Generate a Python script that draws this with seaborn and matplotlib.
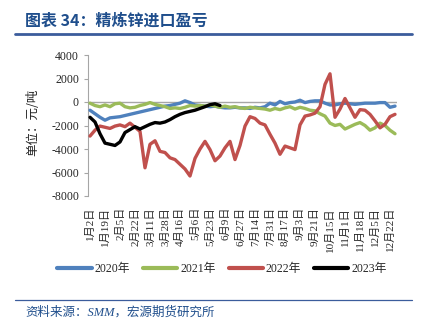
import numpy as np
import pandas as pd
import matplotlib
matplotlib.use("Agg")
import matplotlib.pyplot as plt
from matplotlib.lines import Line2D
import seaborn as sns

# ---- data (import profit/loss, yuan/ton), one value every 4 trading days ----
step = 4
tick_labels = ["1月2日", "1月19日", "2月5日", "2月22日", "3月11日", "3月28日", "4月16日",
               "5月6日", "5月23日", "6月9日", "6月27日", "7月14日", "7月31日", "8月17日",
               "9月3日", "9月21日", "10月15日", "11月1日", "11月18日", "12月5日", "12月22日"]
years = ["2020年", "2021年", "2022年", "2023年"]

y2020 = [-700, -1000, -1300, -1550, -1350, -1300, -1250, -1150, -1050, -950,
         -850, -750, -650, -550, -450, -350, -300, -200, -100, 100,
         -50, -250, -300, -350, -400, -350, -450, -500, -500, -450,
         -500, -500, -550, -450, -500, -400, -100, -250, 50, -150,
         -50, 0, 150, -50, 50, 100, 100, -100, -250, -250,
         -150, -100, -150, -200, -150, -100, -100, -100, -50, -50,
         -450, -350]
y2021 = [-100, -300, -400, -250, -400, -150, -100, -400, -500, -450,
         -300, -200, -50, -200, -300, -400, -550, -500, -550, -450,
         -300, -350, -300, -350, -250, -350, -450, -350, -450, -400,
         -500, -550, -450, -500, -550, -600, -700, -550, -650, -500,
         -400, -600, -450, -550, -700, -750, -1000, -1200, -1800, -2000,
         -1900, -2300, -2100, -1900, -1750, -2000, -2400, -2200, -1800, -2000,
         -2400, -2700]
y2022 = [-2900, -2400, -2050, -2150, -2250, -2050, -1950, -2100, -1800, -2150,
         -2500, -5600, -3600, -3300, -4200, -4300, -4750, -4900, -5300, -5700,
         -6300, -4800, -4000, -3350, -4050, -5000, -4600, -3900, -3350, -4900,
         -3700, -2050, -1250, -1400, -1800, -1950, -2750, -3500, -4450, -3750,
         -3900, -4050, -1950, -1200, -1100, -950, -400, 1500, 2400, -1300,
         -600, 300, -500, -1300, -650, -700, -1050, -1600, -2200, -1900,
         -1250, -1050]
y2023 = [-1300, -1700, -2700, -3500, -3600, -3700, -3400, -2600, -2350, -2100,
         -2300, -2100, -1900, -1750, -1800, -1700, -1500, -1250, -1050, -900,
         -800, -700, -550, -400, -230, -150, -300]

series = [y2020, y2021, y2022, y2023]
palette = ["#4F81BD", "#9BBB59", "#C0504D", "#000000"]

frames = []
for name, vals in zip(years, series):
    frames.append(pd.DataFrame({"day": np.arange(len(vals)) * step,
                                "value": vals, "year": name}))
df = pd.concat(frames, ignore_index=True)

# ---- figure ----
sns.set_style("white")
plt.rcParams["font.family"] = ["Liberation Serif", "Noto Sans CJK SC"]
plt.rcParams["axes.unicode_minus"] = False

fig = plt.figure(figsize=(4.25, 3.34), dpi=100)
W, H = 425, 334
ax = fig.add_axes([88 / W, 1 - 196 / H, (397 - 88) / W, (196 - 55) / H])

ax.axhline(0, color="#A6A6A6", lw=1.0, zorder=1)
sns.lineplot(data=df, x="day", y="value", hue="year", palette=palette,
             hue_order=years, linewidth=2.4, ax=ax, legend=True, zorder=3)

ax.set_xlim(-1.6, 245.6)
ax.set_ylim(-8000, 4000)
ax.set_yticks(np.arange(-8000, 4001, 2000))
ax.set_yticklabels([str(v) for v in np.arange(-8000, 4001, 2000)], fontsize=8.5,
                   family="Liberation Serif")
tick_pos = np.arange(len(tick_labels)) * 12
ax.set_xticks(tick_pos)
ax.set_xticklabels(tick_labels, rotation=90, fontsize=8,
                   family=["Liberation Serif", "Noto Sans CJK SC"], va="top")
ax.tick_params(axis="x", length=0, pad=8)
ax.tick_params(axis="y", length=3, width=0.8, color="#A6A6A6", pad=3.5, direction="out", left=True)
ax.set_xlabel("")
ax.set_ylabel("")
for s in ["top", "right", "bottom"]:
    ax.spines[s].set_visible(False)
ax.spines["left"].set_color("#A6A6A6")
ax.spines["left"].set_linewidth(0.8)

# legend
handles, labels = ax.get_legend_handles_labels()
ax.get_legend().remove()
leg = fig.legend(handles, labels, loc="center", bbox_to_anchor=(222 / W, 1 - 269 / H),
                 ncol=4, frameon=False, handlelength=2.9, handletextpad=0.25,
                 columnspacing=1.1, prop={"family": ["Liberation Serif", "Noto Sans CJK SC"], "size": 8.5})
for ln in leg.get_lines():
    ln.set_linewidth(3)

# y label
fig.text(33 / W, 1 - 122 / H, "单位：元/吨", rotation=90, ha="center", va="center",
         fontsize=9, family=["Noto Sans CJK SC"], color="#222222")

# title and rules
fig.text(25 / W, 1 - 21 / H, "图表 34：精炼锌进口盈亏", ha="left", va="center",
         fontsize=11.5, fontweight="bold", family=["Noto Sans CJK SC"], color="#1F4E8C")
fig.add_artist(Line2D([15 / W, 412 / W], [1 - 33.5 / H, 1 - 33.5 / H], color="#3B5C9C", lw=2.0))
fig.add_artist(Line2D([15 / W, 412 / W], [1 - 299.5 / H, 1 - 299.5 / H], color="#3B5C9C", lw=0.9))
fig.text(25 / W, 1 - 312 / H, "资料来源：SMM，宏源期货研究所", ha="left", va="center",
         fontsize=9, style="italic", family=["Liberation Serif", "Noto Sans CJK SC"], color="#1F4E8C")

fig.savefig("out.png", dpi=100)
